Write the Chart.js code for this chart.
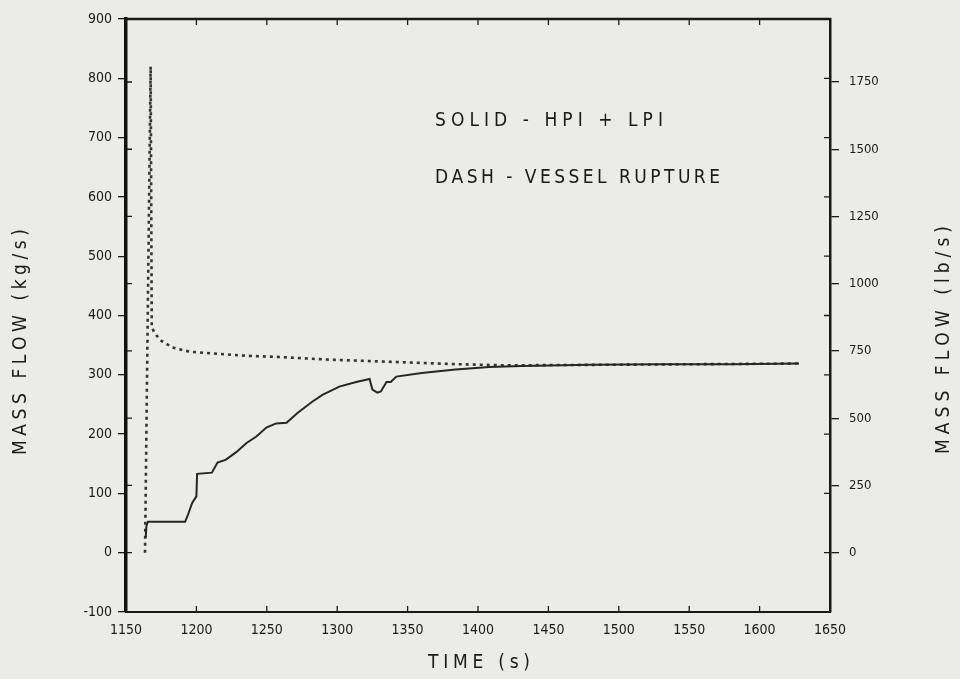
<!DOCTYPE html>
<html>
<head>
<meta charset="utf-8">
<script src="https://cdn.jsdelivr.net/npm/chart.js@4/dist/chart.umd.min.js"></script>
<style>
  html, body { margin: 0; padding: 0; background: #ebebe9; }
  canvas { display: block; }
</style>
</head>
<body>
<canvas id="c" width="960" height="679"></canvas>
<script>
// ---- Data ----
const solidTime = [1164, 1164.5, 1165.5, 1192, 1194, 1197, 1200, 1200.5, 1211, 1215, 1221, 1228.5, 1235.6, 1242.6, 1249.7, 1256.6, 1264, 1272, 1282.5, 1289.5, 1301.5, 1313.5, 1323, 1325, 1328.5, 1331, 1335, 1338, 1342, 1360, 1384, 1408, 1431, 1480, 1530, 1580, 1628];
const solidFlow = [25, 45, 52, 52, 64, 84, 95, 133, 135, 152, 157, 170, 185, 196, 211, 218, 219, 236, 255, 266, 280, 288, 293, 275, 270, 272, 288, 288, 297, 303, 309, 313, 315, 317, 318, 318, 319];

const dashTime = [1163.5, 1167.5, 1168.3, 1170, 1174, 1183, 1195, 1212, 1236, 1259, 1290, 1325, 1384, 1420, 1500, 1628];
const dashFlow = [0, 820, 380, 372, 359, 346, 339, 336, 332, 330, 326, 323, 318, 316, 317, 319];

const xTicks = [1150, 1200, 1250, 1300, 1350, 1400, 1450, 1500, 1550, 1600, 1650];
const kgTicks = [-100, 0, 100, 200, 300, 400, 500, 600, 700, 800, 900];
const lbTicks = [0, 250, 500, 750, 1000, 1250, 1500, 1750];
const KG_TO_LB = 2.20462;

const annotations = ["SOLID - HPI + LPI", "DASH - VESSEL RUPTURE"];

// ---- helpers ----
const INK = '#1a1a1a';
const FAM = '"DejaVu Sans Condensed", "DejaVu Sans", sans-serif';

function drawSpaced(ctx, text, cx, cy, targetW, font) {
  ctx.font = font;
  const widths = [...text].map(ch => ctx.measureText(ch).width);
  const total = widths.reduce((a, b) => a + b, 0);
  const gap = (targetW - total) / (text.length - 1);
  let x = cx - targetW / 2;
  ctx.textAlign = 'left';
  ctx.textBaseline = 'middle';
  [...text].forEach((ch, i) => {
    ctx.fillText(ch, x, cy);
    x += widths[i] + gap;
  });
}

const decor = {
  id: 'decor',
  beforeDraw(chart) {
    const ctx = chart.ctx;
    ctx.save();
    ctx.fillStyle = '#ebebe9';
    ctx.fillRect(0, 0, chart.width, chart.height);
    ctx.restore();
  },
  afterDraw(chart) {
    const ctx = chart.ctx;
    const a = chart.chartArea;
    const xs = chart.scales.x, yl = chart.scales.y, yr = chart.scales.y2;
    ctx.save();
    ctx.strokeStyle = INK;
    ctx.fillStyle = INK;
    // top frame line
    ctx.lineWidth = 2.5;
    ctx.beginPath();
    ctx.moveTo(a.left - 1, a.top);
    ctx.lineTo(a.right + 1, a.top);
    ctx.stroke();
    // inner ticks
    ctx.lineWidth = 1.3;
    ctx.beginPath();
    xTicks.forEach(v => {
      const px = xs.getPixelForValue(v);
      ctx.moveTo(px, a.top); ctx.lineTo(px, a.top + 6);
      ctx.moveTo(px, a.bottom); ctx.lineTo(px, a.bottom - 6);
    });
    lbTicks.forEach(v => {
      const py = yr.getPixelForValue(v);
      ctx.moveTo(a.left, py); ctx.lineTo(a.left + 6, py);
    });
    kgTicks.forEach(v => {
      const py = yl.getPixelForValue(v);
      ctx.moveTo(a.right, py); ctx.lineTo(a.right - 6, py);
    });
    ctx.stroke();

    // axis titles
    const titleFont = '19px ' + FAM;
    ctx.save();
    ctx.translate(21, 342);
    ctx.rotate(-Math.PI / 2);
    drawSpaced(ctx, 'MASS FLOW (kg/s)', 0, 0, 226, titleFont);
    ctx.restore();
    ctx.save();
    ctx.translate(944, 340);
    ctx.rotate(-Math.PI / 2);
    drawSpaced(ctx, 'MASS FLOW (lb/s)', 0, 0, 228, titleFont);
    ctx.restore();
    drawSpaced(ctx, 'TIME (s)', 479, 663, 102, titleFont);

    // annotations
    const annFont = '19px ' + FAM;
    drawSpaced(ctx, annotations[0], 435 + 114, 121, 228, annFont);
    drawSpaced(ctx, annotations[1], 435 + 142.5, 178, 285, annFont);
    ctx.restore();
  }
};

const solidData = solidTime.map((t, i) => ({ x: t, y: solidFlow[i] }));
const dashData = dashTime.map((t, i) => ({ x: t, y: dashFlow[i] }));
const plain = v => String(v);

new Chart(document.getElementById('c'), {
  type: 'line',
  data: {
    datasets: [
      {
        label: 'HPI + LPI',
        data: solidData,
        borderColor: '#262626',
        borderWidth: 2,
        pointRadius: 0,
        tension: 0,
        fill: false,
        yAxisID: 'y'
      },
      {
        label: 'Vessel rupture',
        data: dashData,
        borderColor: '#333333',
        borderWidth: 2.6,
        borderDash: [3, 4],
        pointRadius: 0,
        tension: 0,
        fill: false,
        yAxisID: 'y'
      }
    ]
  },
  plugins: [decor],
  options: {
    responsive: false,
    animation: false,
    devicePixelRatio: 1,
    layout: { padding: { top: 19, left: 0, right: 0, bottom: 0 } },
    plugins: { legend: { display: false }, tooltip: { enabled: false } },
    scales: {
      x: {
        type: 'linear',
        min: 1150, max: 1650,
        afterBuildTicks: s => { s.ticks = xTicks.map(v => ({ value: v })); },
        afterFit: s => { s.height = 67; },
        ticks: { color: INK, font: { family: FAM, size: 14 }, padding: 10, maxRotation: 0, autoSkip: false, callback: plain },
        grid: { drawOnChartArea: false, drawTicks: false },
        border: { display: true, color: INK, width: 2 }
      },
      y: {
        type: 'linear',
        position: 'left',
        min: -100, max: 900,
        afterBuildTicks: s => { s.ticks = kgTicks.map(v => ({ value: v })); },
        afterFit: s => { s.width = 126; },
        ticks: { color: INK, font: { family: FAM, size: 14 }, padding: 6, autoSkip: false, callback: plain },
        grid: { drawOnChartArea: false, tickLength: 8, color: INK, lineWidth: 1.3 },
        border: { display: true, color: '#111', width: 3.5 }
      },
      y2: {
        type: 'linear',
        position: 'right',
        min: -100 * KG_TO_LB, max: 900 * KG_TO_LB,
        afterBuildTicks: s => { s.ticks = lbTicks.map(v => ({ value: v })); },
        afterFit: s => { s.width = 130; },
        ticks: { color: INK, font: { family: FAM, size: 13 }, padding: 10, autoSkip: false, callback: plain },
        grid: { drawOnChartArea: false, tickLength: 9, color: INK, lineWidth: 1.3 },
        border: { display: true, color: INK, width: 2.5 }
      }
    }
  }
});
</script>
</body>
</html>
